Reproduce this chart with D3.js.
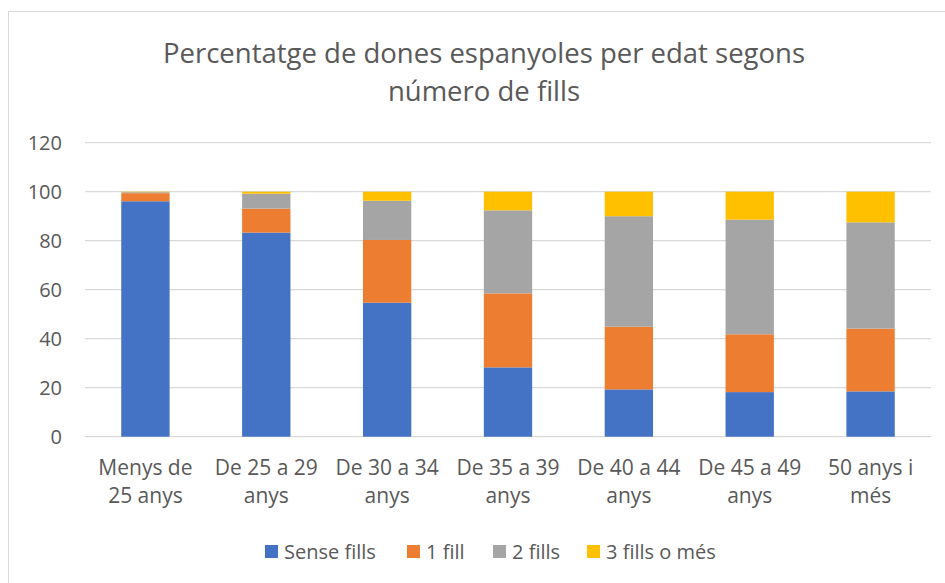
<!DOCTYPE html>
<html><head><meta charset="utf-8">
<script src="https://cdn.jsdelivr.net/npm/d3@7"></script>
<style>body{margin:0;background:#fff}svg{display:block}text{font-family:"Open Sans",sans-serif;fill:#595959}</style>
</head><body><svg id="c" width="945" height="583"></svg>
<script>
const categories = ["Menys de 25 anys","De 25 a 29 anys","De 30 a 34 anys","De 35 a 39 anys","De 40 a 44 anys","De 45 a 49 anys","50 anys i més"];
const seriesNames = ["Sense fills","1 fill","2 fills","3 fills o més"];
const senseFills = [96.1, 83.3, 54.7, 28.3, 19.3, 18.2, 18.5];
const unFill     = [3.3, 9.8, 25.6, 30.2, 25.6, 23.6, 25.6];
const dosFills   = [0.4, 6.1, 16.0, 33.9, 45.1, 46.8, 43.4];
const tresFills  = [0.2, 0.8, 3.7, 7.6, 10.0, 11.4, 12.5];
const yTicks = [0,20,40,60,80,100,120];
const colors = ["#4472C4","#ED7D31","#A5A5A5","#FFC000"];

const svg = d3.select("#c");
svg.append("rect").attr("x",8.5).attr("y",11.5).attr("width",960).attr("height",600)
  .attr("fill","#fff").attr("stroke","#D9D9D9");

const rows = categories.map((c,i)=>({cat:c,"Sense fills":senseFills[i],"1 fill":unFill[i],"2 fills":dosFills[i],"3 fills o més":tresFills[i]}));
const stack = d3.stack().keys(seriesNames)(rows);

const x = d3.scaleBand().domain(categories).range([85,931]).paddingInner(0.6).paddingOuter(0.3);
const y = d3.scaleLinear().domain([0,120]).range([436.7,142.7]);

// grid
svg.append("g").selectAll("line").data(yTicks).join("line")
  .attr("x1",85).attr("x2",931).attr("y1",d=>y(d)).attr("y2",d=>y(d))
  .attr("stroke","#D9D9D9").attr("stroke-width",1.3);

// y axis labels
const ya = svg.append("g").attr("transform","translate(85,0)")
  .call(d3.axisLeft(y).tickValues(yTicks).tickSize(0).tickPadding(23));
ya.select(".domain").remove();
ya.selectAll("text").attr("font-size","20px").attr("font-family","Open Sans").attr("fill","#595959");

// bars
svg.append("g").selectAll("g").data(stack).join("g").attr("fill",(d,i)=>colors[i])
  .selectAll("rect").data(d=>d).join("rect")
  .attr("x",d=>x(d.data.cat)).attr("width",x.bandwidth())
  .attr("y",d=>y(d[1])).attr("height",d=>y(d[0])-y(d[1]));

// x labels with wrapping
const xa = svg.append("g");
categories.forEach(c=>{
  const t = xa.append("text").attr("x",x(c)+x.bandwidth()/2).attr("y",475)
    .attr("text-anchor","middle").attr("font-size","21px");
  const words = c.split(" ");
  let line=[], lines=[];
  const probe = svg.append("text").attr("font-size","21px");
  words.forEach(w=>{
    const test=[...line,w].join(" ");
    probe.text(test);
    if(probe.node().getComputedTextLength()>116 && line.length){lines.push(line.join(" "));line=[w];}
    else line.push(w);
  });
  lines.push(line.join(" "));
  probe.remove();
  lines.forEach((l,i)=>t.append("tspan").attr("x",x(c)+x.bandwidth()/2).attr("y",475+i*28).text(l));
});

// title
const title = svg.append("text").attr("text-anchor","middle").attr("font-size","27.5px");
title.append("tspan").attr("x",484).attr("y",63).text("Percentatge de dones espanyoles per edat segons");
title.append("tspan").attr("x",484).attr("y",101).text("número de fills");

// legend
const legX = [265, 407, 493, 587];
const lg = svg.append("g");
seriesNames.forEach((s,i)=>{
  lg.append("rect").attr("x",legX[i]).attr("y",545).attr("width",13).attr("height",13).attr("fill",colors[i]);
  lg.append("text").attr("x",legX[i]+19).attr("y",558.5).attr("font-size","20px").text(s);
});
</script></body></html>
